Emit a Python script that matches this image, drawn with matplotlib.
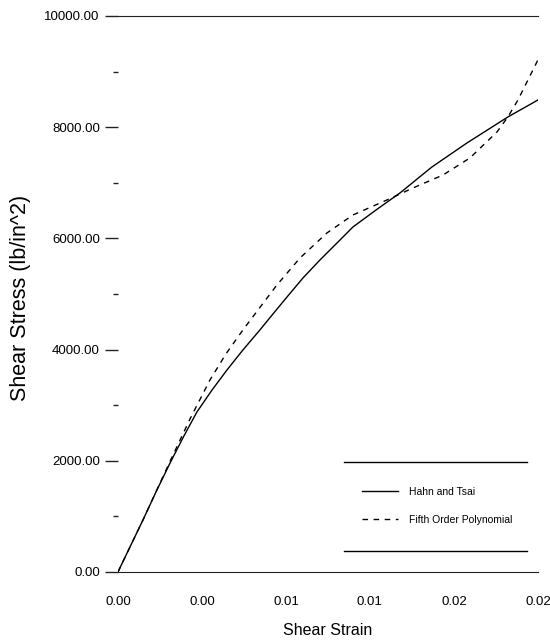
import matplotlib
matplotlib.use("Agg")
import matplotlib.pyplot as plt
from matplotlib.ticker import FormatStrFormatter, MultipleLocator

plt.rcParams['font.family'] = ['Liberation Sans', 'DejaVu Sans']

# Hahn and Tsai curve
hahn_strain = [0.0, 0.00057, 0.00119, 0.00181, 0.00248, 0.00314, 0.00376,
               0.00448, 0.00519, 0.00595, 0.00676, 0.00738, 0.00805, 0.00881,
               0.00962, 0.01043, 0.01119, 0.01229, 0.01343, 0.01495, 0.01662,
               0.01857, 0.02]
hahn_stress = [0, 450, 935, 1439, 1960, 2446, 2878,
               3273, 3633, 3993, 4353, 4640, 4946, 5288,
               5612, 5917, 6205, 6511, 6817, 7284, 7716,
               8184, 8489]

# fifth order polynomial fit
poly_strain = [0.0, 0.00119, 0.00248, 0.00343, 0.00438, 0.00514, 0.00595,
               0.00757, 0.00867, 0.00995, 0.01119, 0.01281, 0.01405, 0.01548,
               0.01676, 0.01805, 0.01857, 0.01905, 0.02]
poly_stress = [0, 935, 1990, 2752, 3453, 3921, 4353,
               5162, 5648, 6097, 6421, 6691, 6907, 7140,
               7446, 7914, 8184, 8489, 9209]

x_ticks = [0.0, 0.004, 0.008, 0.012, 0.016, 0.02]
y_ticks = [0, 2000, 4000, 6000, 8000, 10000]

fig = plt.figure(figsize=(5.5, 6.4), dpi=100)
ax = fig.add_axes([0.2145, 0.10625, 0.7635, 0.86875])

ax.plot(hahn_strain, hahn_stress, color='black', lw=1.0, label='Hahn and Tsai')
ax.plot(poly_strain, poly_stress, color='black', lw=1.0, dashes=(4, 4),
        label='Fifth Order Polynomial')

ax.set_xlim(0, 0.02)
ax.set_ylim(0, 10000)
ax.set_xticks(x_ticks)
ax.set_yticks(y_ticks)
ax.yaxis.set_minor_locator(MultipleLocator(1000))
ax.xaxis.set_major_formatter(FormatStrFormatter('%.2f'))
ax.yaxis.set_major_formatter(FormatStrFormatter('%.2f'))

ax.spines['left'].set_visible(False)
ax.spines['right'].set_visible(False)
ax.spines['top'].set_color('#222222')
ax.spines['bottom'].set_color('#222222')

ax.tick_params(axis='x', length=0, pad=17, labelsize=9.5)
ax.tick_params(axis='y', which='major', length=9.5, width=1, color='#222222',
               pad=3.6, labelsize=9.5)
ax.tick_params(axis='y', which='minor', length=3.6, width=1, color='#222222')

ax.set_xlabel('Shear Strain', fontsize=11.5, labelpad=11)
ax.set_ylabel('Shear Stress (lb/in^2)', fontsize=15.5)
ax.yaxis.set_label_coords(-0.207, 0.493)

leg = ax.legend(loc='upper left', bbox_to_anchor=(0.581, 0.153), frameon=False,
                fontsize=7.5, borderpad=0, borderaxespad=0, handlelength=3.5,
                handletextpad=1.0, labelspacing=1.7)

# legend rules above and below
ax.plot([0.538, 0.974], [0.198, 0.198], transform=ax.transAxes, color='black',
        lw=1.0, clip_on=False)
ax.plot([0.538, 0.974], [0.0378, 0.0378], transform=ax.transAxes, color='black',
        lw=1.0, clip_on=False)

fig.savefig('out.png', dpi=100)
